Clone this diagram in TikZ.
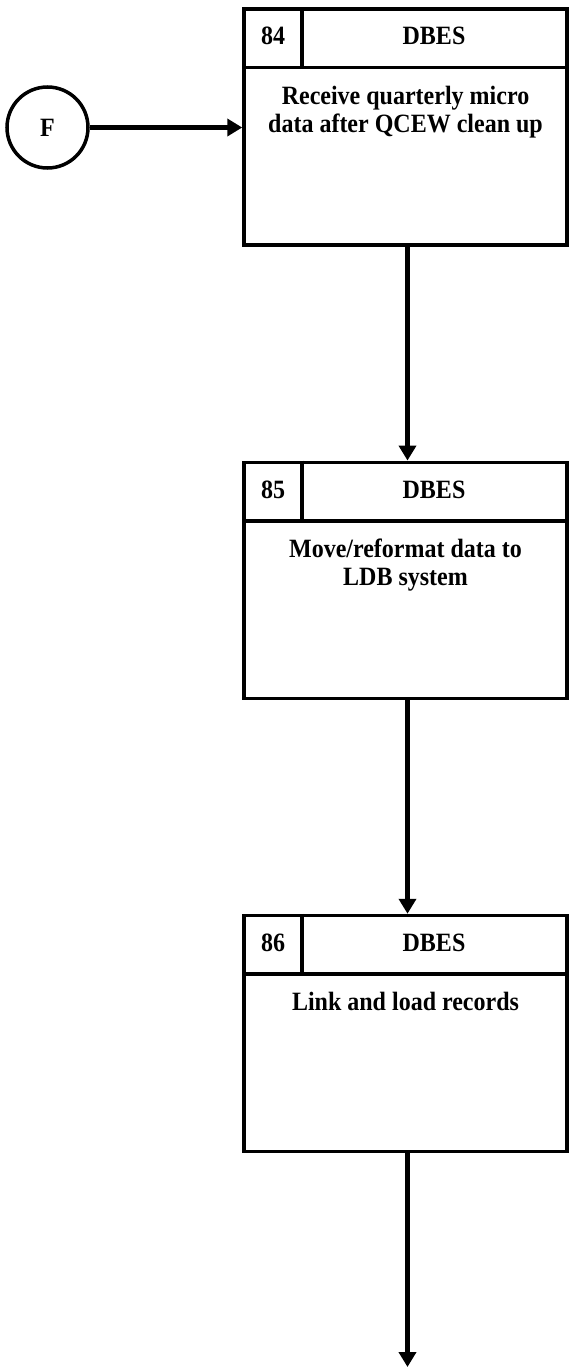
\documentclass[tikz,border=0pt]{standalone}
\usepackage{fontspec}
\usepackage{graphicx}
\setmainfont{Liberation Serif}
\usetikzlibrary{arrows.meta,calc}
\newcommand{\tallt}[1]{\scalebox{1}[1.1]{#1}}
\begin{document}
\begin{tikzpicture}[x=1pt,y=-1pt,
  box/.style={draw,rectangle,line width=3.5pt,minimum width=323pt,minimum height=236pt,inner sep=0pt},
  sep/.style={line width=3.5pt},
  hd/.style={font=\bfseries\fontsize{24}{29}\selectfont,inner sep=0pt,anchor=base},
  body/.style={font=\bfseries\fontsize{24}{28}\selectfont,inner sep=0pt,anchor=north,align=center},
  flow/.style={line width=4.5pt,-{Triangle[length=15pt,width=17pt]}},
  conn/.style={draw,circle,line width=3.5pt,minimum size=81pt,inner sep=0pt,font=\bfseries\fontsize{24}{28}\selectfont}]
\useasboundingbox (0,0) rectangle (569,1368);
\node[conn] (F) at (47.5,127.5) {\tallt{F}};
% box 84
\node[box] (b84) at (405.5,127) {};
\draw[sep] ($(b84.north west)+(0,60.25)$) -- ($(b84.north east)+(0,60.25)$);
\draw[sep] ($(b84.north west)+(59.5,0)$) -- ($(b84.north west)+(59.5,60.25)$);
\node[hd] (n84) at ($(b84.north west)+(30.75,37.5)$) {\tallt{84}};
\node[hd] (t84) at ($(b84.north west)+(191.75,37.5)$) {\tallt{DBES}};
\node[body] (d84) at ($(b84.north)+(0,77.75)$) {\rule{0pt}{19pt}\tallt{Receive quarterly micro}\\\tallt{data after QCEW clean up}};
% box 85
\node[box] (b85) at (405.5,580.3) {};
\draw[sep] ($(b85.north west)+(0,60.25)$) -- ($(b85.north east)+(0,60.25)$);
\draw[sep] ($(b85.north west)+(59.5,0)$) -- ($(b85.north west)+(59.5,60.25)$);
\node[hd] (n85) at ($(b85.north west)+(30.75,37.5)$) {\tallt{85}};
\node[hd] (t85) at ($(b85.north west)+(191.75,37.5)$) {\tallt{DBES}};
\node[body] (d85) at ($(b85.north)+(0,77.75)$) {\rule{0pt}{19pt}\tallt{Move/reformat data to}\\\tallt{LDB system}};
% box 86
\node[box] (b86) at (405.5,1033.5) {};
\draw[sep] ($(b86.north west)+(0,60.25)$) -- ($(b86.north east)+(0,60.25)$);
\draw[sep] ($(b86.north west)+(59.5,0)$) -- ($(b86.north west)+(59.5,60.25)$);
\node[hd] (n86) at ($(b86.north west)+(30.75,37.5)$) {\tallt{86}};
\node[hd] (t86) at ($(b86.north west)+(191.75,37.5)$) {\tallt{DBES}};
\node[body] (d86) at ($(b86.north)+(0,77.75)$) {\rule{0pt}{19pt}\tallt{Link and load records}};
% connectors
\coordinate (end) at (407.5,1367);
\draw[flow] (F.east) -- (F.east -| b84.west);
\draw[flow] ([xshift=2pt]b84.south) -- ([xshift=2pt]b85.north);
\draw[flow] ([xshift=2pt]b85.south) -- ([xshift=2pt]b86.north);
\draw[flow] ([xshift=2pt]b86.south) -- (end);
\end{tikzpicture}
\end{document}
